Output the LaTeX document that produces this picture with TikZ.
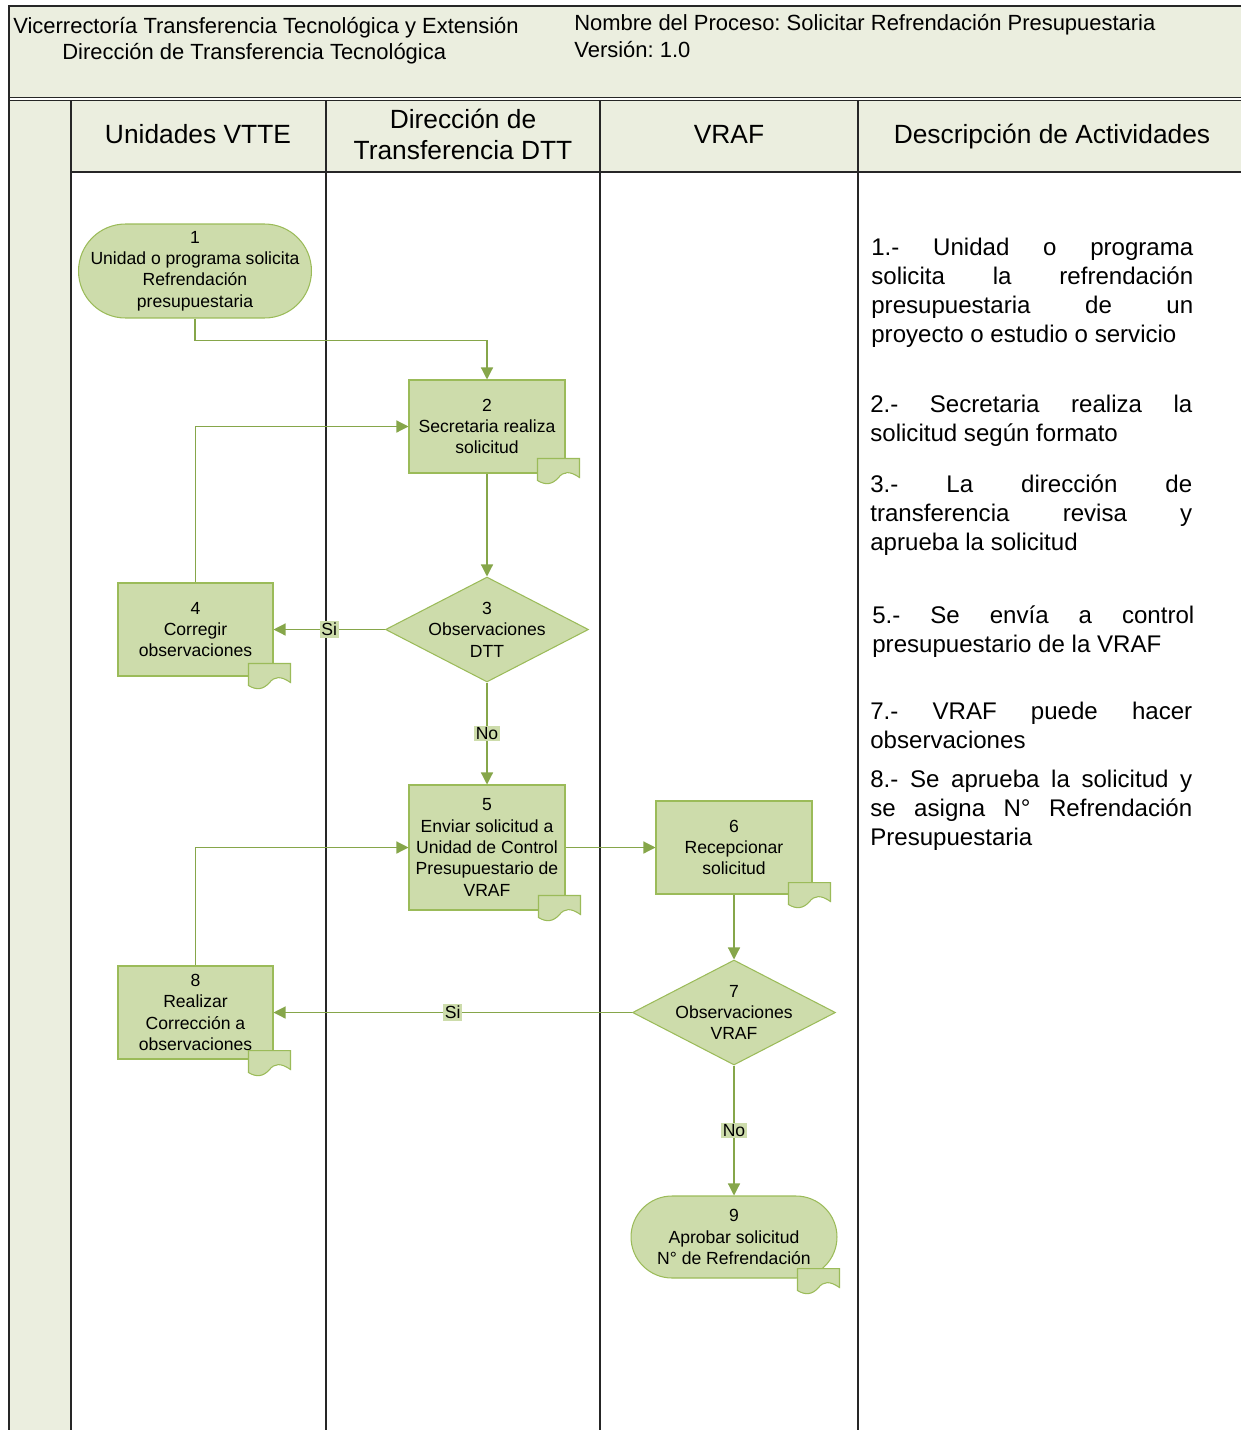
\documentclass[tikz,border=0pt]{standalone}
\usepackage{fontspec}
\setmainfont{Liberation Sans}
\usepackage{tikz}
\usetikzlibrary{arrows.meta, positioning, calc, shapes.geometric}
\definecolor{hdrfill}{HTML}{EBEEDF}
\definecolor{actfill}{HTML}{CDDCAB}
\definecolor{actline}{HTML}{9BBB59}
\definecolor{flowc}{HTML}{86A64A}
\definecolor{frame}{HTML}{262626}
\frenchspacing
\tolerance=10000
\hyphenpenalty=10000

\newcommand{\doctab}[1]{%
  \begin{scope}[shift={(#1)}]
    \filldraw[draw=actline, fill=actfill, line width=0.6pt] (0,0) -- (42,0) -- (42,19) .. controls (32,12) and (26,13) .. (21,19) .. controls (15,26) and (8,27) .. (0,22) -- cycle;
  \end{scope}}

\begin{document}
\begin{tikzpicture}[x=0.02cm, y=-0.02cm,
  lane/.style={draw=frame, line width=0.8pt},
  act/.style={draw=actline, fill=actfill, line width=0.6pt, align=center, inner sep=0pt, font=\fontsize{10}{12.2}\selectfont},
  box/.style={act, minimum width=3.12cm, minimum height=1.86cm},
  dia/.style={draw=actline, fill=actfill, line width=0.6pt, shape=diamond, inner sep=0pt, minimum width=4.06cm, minimum height=2.1cm},
  diatext/.style={align=center, font=\fontsize{10}{12.2}\selectfont},
  flow/.style={draw=flowc, line width=0.7pt, -{Triangle[length=0.24cm, width=0.24cm]}},
  lab/.style={fill=actfill, inner sep=1pt, font=\fontsize{10}{12}\selectfont},
  title/.style={anchor=west, inner sep=0pt, font=\fontsize{12.5}{15}\selectfont},
  lanehead/.style={align=center, font=\fontsize{15}{17.6}\selectfont},
  desc/.style={anchor=north west, inner sep=0pt, text width=6.44cm, align=justify, font=\fontsize{13.7}{16.5}\selectfont}
]
\useasboundingbox (0,0) rectangle (1241,1430);

\fill[hdrfill] (9,6) rectangle (1241,98);
\fill[hdrfill] (9,100) rectangle (71,1430);
\fill[hdrfill] (71,100) rectangle (1241,172);
\draw[lane] (1241,6) -- (9,6) -- (9,1430);
\draw[lane] (9,97.5) -- (1241,97.5);
\draw[lane] (9,100.5) -- (1241,100.5);
\foreach \x in {71,326,600,858}
  \draw[lane] (\x,100) -- (\x,1430);
\draw[lane] (71,172) -- (1241,172);

\node[title] (vtte) at (13,28) {Vicerrectoría Transferencia Tecnológica y Extensión};
\node[title] (dtt) at (62,54) {Dirección de Transferencia Tecnológica};
\node[title] (proc) at (574,25) {Nombre del Proceso: Solicitar Refrendación Presupuestaria};
\node[title] (vers) at (574,50) {Versión: 1.0};

\node[lanehead] (lnvtte) at (198,134) {Unidades VTTE};
\node[lanehead] (lndtt) at (463,134) {Dirección de\\Transferencia DTT};
\node[lanehead] (lnvraf) at (729,134) {VRAF};
\node[lanehead] (lndesc) at (1052,137) {Descripción de Actividades};

\node[act, minimum width=4.66cm, minimum height=1.88cm, rounded corners=0.94cm] (n1) at (195,271) {1\\Unidad o programa solicita\\Refrendación\\presupuestaria};
\node[box] (n2) at (487,426.5) {2\\Secretaria realiza\\solicitud};
\node[dia] (d3) at (487,629.5) {};
\node[diatext] (d3t) at (d3) {3\\Observaciones\\DTT};
\node[box, minimum width=3.1cm] (n4) at (195.5,629.5) {4\\Corregir\\observaciones};
\node[box, minimum height=2.5cm] (n5) at (487,847.5) {5\\Enviar solicitud a\\Unidad de Control\\Presupuestario de\\VRAF};
\node[box] (n6) at (734,847.5) {6\\Recepcionar\\solicitud};
\node[dia] (d7) at (734,1012.5) {};
\node[diatext] (d7t) at (d7) {7\\Observaciones\\VRAF};
\node[box, minimum width=3.1cm] (n8) at (195.5,1012.5) {8\\Realizar\\Corrección a\\observaciones};
\node[act, minimum width=4.12cm, minimum height=1.64cm, rounded corners=0.82cm] (n9) at (734,1237) {9\\Aprobar solicitud\\N° de Refrendación};

\draw[flow] (n1.south) -- ++(0,22) -| (n2.north);
\draw[flow] (n2.south) -- (d3.north);
\draw[flow] (d3.west) -- node[lab] (si3) {Si} (n4.east);
\draw[flow] (n4.north) |- (n2.west);
\draw[flow] (d3.south) -- node[lab] (no3) {No} (n5.north);
\draw[flow] (n5.east) -- (n6.west);
\draw[flow] (n6.south) -- (d7.north);
\draw[flow] (d7.west) -- node[lab] (si7) {Si} (n8.east);
\draw[flow] (n8.north) |- (n5.west);
\draw[flow] (d7.south) -- node[lab] (no7) {No} (n9.north);

\doctab{$(n2.south east)+(-28,-15)$}
\doctab{$(n4.south east)+(-25,-13)$}
\doctab{$(n5.south east)+(-27,-15)$}
\doctab{$(n6.south east)+(-24,-12)$}
\doctab{$(n8.south east)+(-25,-9)$}
\doctab{$(n9.south east)+(-40,-10)$}

\node[desc] (a1) at (871,238) {1.- Unidad o programa\linebreak solicita la refrendación\linebreak presupuestaria de un\linebreak proyecto o estudio o servicio};
\node[desc] (a2) at (870,395) {2.- Secretaria realiza la\linebreak solicitud según formato};
\node[desc] (a3) at (870,474) {3.- La dirección de\linebreak transferencia revisa y\linebreak aprueba la solicitud};
\node[desc] (a5) at (872,605) {5.- Se envía a control\linebreak presupuestario de la VRAF};
\node[desc] (a7) at (870,702) {7.- VRAF puede hacer\linebreak observaciones};
\node[desc] (a8) at (870,770) {8.- Se aprueba la solicitud y\linebreak se asigna N° Refrendación\linebreak Presupuestaria};
\end{tikzpicture}
\end{document}
